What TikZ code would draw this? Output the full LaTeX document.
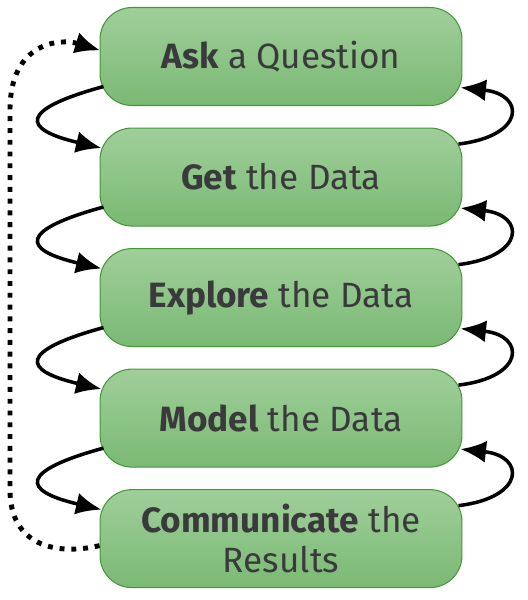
\documentclass[tikz,border=0pt]{standalone}
\usepackage{fontspec}
\setmainfont{Fira Sans}
\usetikzlibrary{arrows.meta}
\usetikzlibrary{calc}
\usetikzlibrary{positioning}

\definecolor{BoxTop}{RGB}{160,207,154}
\definecolor{BoxBot}{RGB}{122,185,116}
\definecolor{BoxEdge}{RGB}{68,152,58}
\definecolor{StepText}{RGB}{58,58,60}

\tikzset{
	>={Latex[length=14.5pt, width=12.5pt]},
	stepbox/.style={draw=BoxEdge, line width=0.6pt, rounded corners=0.64cm,
		top color=BoxTop, bottom color=BoxBot,
		minimum width=7.24cm, minimum height=1.96cm,
		text=StepText, align=center,
		font=\fontsize{20}{23}\selectfont},
	loop/.style={black, line width=2pt, ->},
	back/.style={black, line width=2.8pt, dash pattern=on 2.8pt off 3.9pt, ->},
}

\begin{document}
\begin{tikzpicture}[x=0.02cm, y=-0.02cm, node distance=0.43cm]
	
	% frame of the picture (528 x 600 px)
	\useasboundingbox (0,0) rectangle (528,600);
	
	% --- the five steps ---
	\node[stepbox] (ask) at (281,56.5) {\textbf{Ask} a Question};
	\node[stepbox, below=of ask] (get) {\textbf{Get} the Data};
	\node[stepbox, below=of get] (explore) {\textbf{Explore} the Data};
	\node[stepbox, below=of explore] (model) {\textbf{Model} the Data};
	\node[stepbox, below=of model] (comm) {\textbf{Communicate} the\\Results};
	
	% --- forward (left) and backward (right) loops between neighbours ---
	\foreach \a/\b in {ask/get, get/explore, explore/model, model/comm} {
		\draw[loop] ($(\a.west)+(4,30)$) .. controls +(-84,23) and +(-81,-19) .. ($(\b.west)+(2,-29)$);
		\draw[loop] ($(\b.east)+(-4,-33)$) .. controls +(67,-8) and +(65,7) .. ($(\a.east)+(-2,31)$);
	}
	
	% --- dotted return from the last step to the first ---
	\draw[back] ($(comm.west)+(0,7)$) .. controls (55,556) and (10,545) .. (10,490)
		-- (10,110) .. controls (10,42) and (60,38) .. ($(ask.west)+(1,-6)$);
	
\end{tikzpicture}
\end{document}
